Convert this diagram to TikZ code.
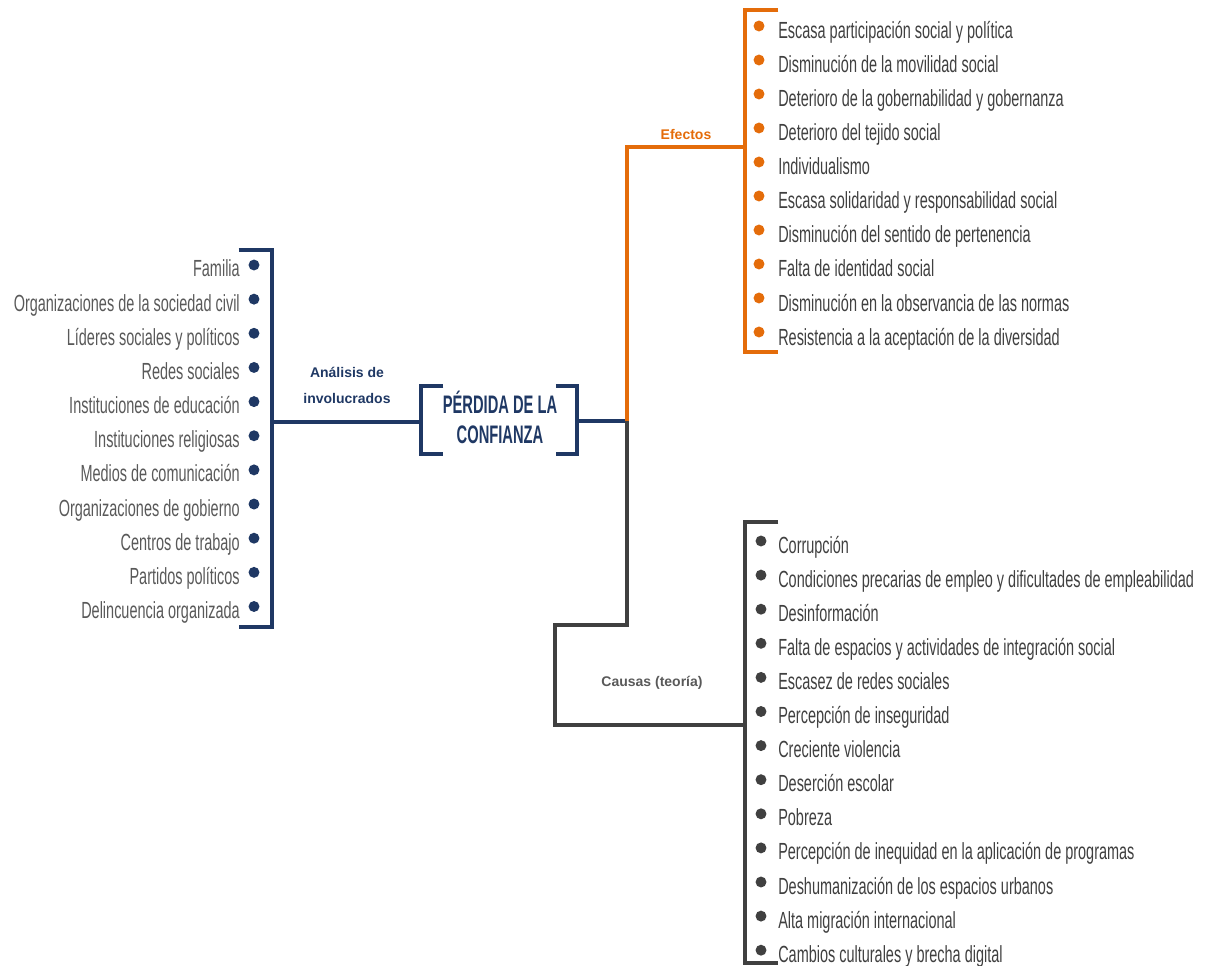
\documentclass[tikz,border=0pt]{standalone}
\usepackage{fontspec}
\setmainfont{Liberation Sans}
\newfontfamily\narrowfont{Liberation Sans}[FakeStretch=0.62]
\newfontfamily\titlefont{Liberation Sans}[FakeStretch=0.58]
\definecolor{navy}{HTML}{1F3864}
\definecolor{orng}{HTML}{E46C0A}
\definecolor{dgray}{HTML}{404040}
\definecolor{lgray}{HTML}{595959}
\begin{document}
\begin{tikzpicture}[x=0.75pt,y=-0.75pt,
  bar/.style={line width=3pt},
  link/.style={line width=3pt},
  dotmark/.style={circle,fill=#1,inner sep=0pt,minimum size=8.2pt},
  itemtext/.style={font=\narrowfont\fontsize{17.5}{20}\selectfont,inner sep=0pt},
  ritem/.style={itemtext,anchor=base west,text=dgray},
  litem/.style={itemtext,anchor=base east,text=lgray},
  tag/.style={font=\bfseries\fontsize{10.5}{12}\selectfont,inner sep=0pt,anchor=base},
  headline/.style={font=\titlefont\bfseries\fontsize{19}{22}\selectfont,inner sep=0pt,anchor=base,text=navy}]
\useasboundingbox (0,0) rectangle (1214,966);

% central topic
\node[minimum width=117pt,minimum height=51pt,inner sep=0pt] (core) at (499,420) {};
\node[headline] (title1) at (500,413) {PÉRDIDA DE LA};
\node[headline] (title2) at (500,443) {CONFIANZA};
\draw[bar,navy] ([xshift=17pt]core.north west) -- (core.north west) -- (core.south west) -- ([xshift=17pt]core.south west);
\draw[bar,navy] ([xshift=-16pt]core.north east) -- (core.north east) -- (core.south east) -- ([xshift=-16pt]core.south east);

% stakeholders (left)
\coordinate (ltop) at (272,250);
\coordinate (lbot) at (272,627);
\coordinate (lmid) at (272,422);
\draw[bar,navy] ([xshift=-25pt]ltop) -- (ltop) -- (lbot) -- ([xshift=-25pt]lbot);
\foreach \t [count=\i from 0] in {Familia,Organizaciones de la sociedad civil,Líderes sociales y políticos,Redes sociales,Instituciones de educación,Instituciones religiosas,Medios de comunicación,Organizaciones de gobierno,Centros de trabajo,Partidos políticos,Delincuencia organizada}{
  \node[dotmark=navy] (ld\i) at (254,{265+34.15*\i}) {};
  \node[litem] (lt\i) at (240,{277+34.15*\i}) {\t};
}
\draw[link,navy] (lmid) -- (core.west |- lmid);
\node[tag,text=navy] (inv1) at (347,378) {Análisis de};
\node[tag,text=navy] (inv2) at (347,403) {involucrados};

% junction to the right of the topic
\coordinate (hub) at (627,421);
\draw[link,navy] (core.east |- hub) -- (hub);

% effects (top right)
\coordinate (etop) at (745,10);
\coordinate (ebot) at (745,352);
\coordinate (emid) at (745,147);
\draw[bar,orng] ([xshift=25pt]etop) -- (etop) -- (ebot) -- ([xshift=25pt]ebot);
\draw[link,orng] (hub) -- (hub |- emid) -- (emid);
\node[tag,text=orng] (eff) at (686,140) {Efectos};
\foreach \t [count=\i from 0] in {Escasa participación social y política,Disminución de la movilidad social,Deterioro de la gobernabilidad y gobernanza,Deterioro del tejido social,Individualismo,Escasa solidaridad y responsabilidad social,Disminución del sentido de pertenencia,Falta de identidad social,Disminución en la observancia de las normas,Resistencia a la aceptación de la diversidad}{
  \node[dotmark=orng] (ed\i) at (759,{26+34*\i}) {};
  \node[ritem] (et\i) at (778,{39+34*\i}) {\t};
}

% causes (bottom right)
\coordinate (ctop) at (745,522);
\coordinate (cbot) at (745,963);
\coordinate (cmid) at (745,725);
\coordinate (cstep) at (555,625);
\draw[bar,dgray] ([xshift=25pt]ctop) -- (ctop) -- (cbot) -- ([xshift=25pt]cbot);
\draw[link,dgray] (hub) -- (hub |- cstep) -- (cstep) -- (cstep |- cmid) -- (cmid);
\node[tag,text=lgray] (cau) at (652,686) {Causas (teoría)};
\foreach \t [count=\i from 0] in {Corrupción,Condiciones precarias de empleo y dificultades de empleabilidad,Desinformación,Falta de espacios y actividades de integración social,Escasez de redes sociales,Percepción de inseguridad,Creciente violencia,Deserción escolar,Pobreza,Percepción de inequidad en la aplicación de programas,Deshumanización de los espacios urbanos,Alta migración internacional,Cambios culturales y brecha digital}{
  \node[dotmark=dgray] (cd\i) at (761,{541+34.1*\i}) {};
  \node[ritem] (ct\i) at (778,{553+34.1*\i}) {\t};
}
\end{tikzpicture}
\end{document}
